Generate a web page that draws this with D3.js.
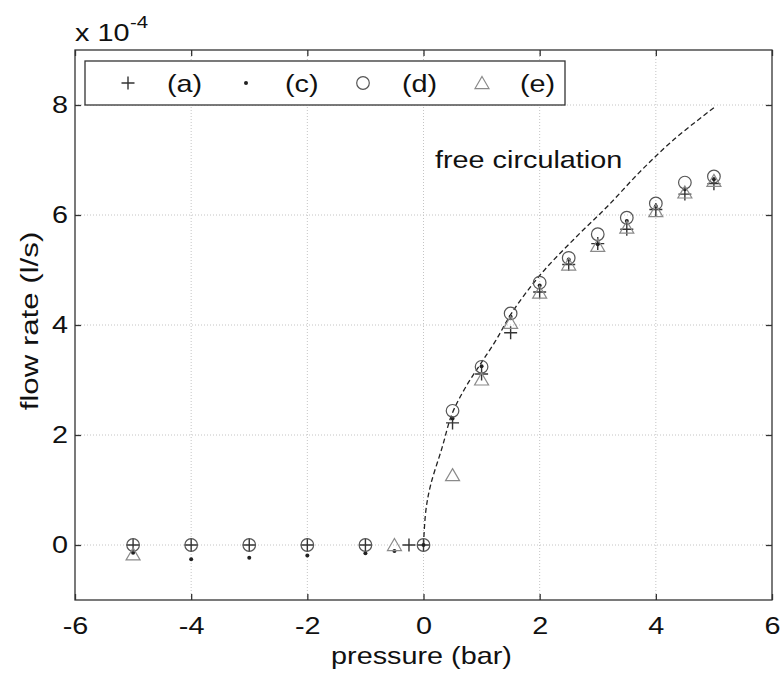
<!DOCTYPE html>
<html>
<head>
<meta charset="utf-8">
<script src="https://cdn.jsdelivr.net/npm/d3@7"></script>
<style>
  body { margin: 0; background: #fff; }
  text { font-family: "Liberation Sans", Arial, sans-serif; fill: #111; }
</style>
</head>
<body>
<svg id="chart" width="780" height="678"></svg>
<script>
// values (flow rate in 1e-4 l/s)
var xTicks = [-6, -4, -2, 0, 2, 4, 6];
var yTicks = [0, 2, 4, 6, 8];

var aX = [-5, -4, -3, -2, -1, -0.25, 0, 0.5, 1, 1.5, 2, 2.5, 3, 3.5, 4, 4.5, 5];
var aY = [0, 0, 0, 0, 0, 0, 0, 2.22, 3.11, 3.86, 4.6, 5.1, 5.48, 5.74, 6.1, 6.38, 6.57];

var cX = [-5, -4, -3, -2, -1, -0.5, 0, 0.5, 1, 1.5, 2, 2.5, 3, 3.5, 4, 4.5, 5];
var cY = [-0.14, -0.26, -0.23, -0.19, -0.15, -0.11, 0, 2.3, 3.25, 4.15, 4.72, 5.19, 5.47, 5.89, 6.16, 6.47, 6.65];

var dX = [-5, -4, -3, -2, -1, 0, 0.5, 1, 1.5, 2, 2.5, 3, 3.5, 4, 4.5, 5];
var dY = [0, 0, 0, 0, 0, 0, 2.44, 3.24, 4.21, 4.77, 5.22, 5.65, 5.95, 6.21, 6.59, 6.7];

var eX = [-5, -0.5, 0.5, 1, 1.5, 2, 2.5, 3, 3.5, 4, 4.5, 5];
var eY = [-0.17, 0, 1.27, 3.01, 4.04, 4.59, 5.1, 5.44, 5.77, 6.07, 6.41, 6.62];

var freeX = [0, 0.04, 0.12, 0.32, 0.49, 0.72, 0.98, 1.24, 1.52, 2.0, 2.59, 3.17, 3.74, 4.32, 5.0];
var freeY = [0, 0.62, 1.08, 1.77, 2.38, 2.86, 3.29, 3.71, 4.22, 4.9, 5.56, 6.16, 6.8, 7.38, 7.95];

var legendNames = ['(a)', '(c)', '(d)', '(e)'];

var svg = d3.select('#chart');
var x = d3.scaleLinear().domain([-6, 6]).range([75, 772]);
var y = d3.scaleLinear().domain([-1, 9]).range([600, 50]);
var SX = 1.2; // the picture's text is a bit wide

function txt(g, px, py, s, size, anchor, rot, sx) {
  return g.append('text')
    .attr('transform', 'translate(' + px + ',' + py + ') rotate(' + (rot || 0) + ') scale(' + (sx || SX) + ',1)')
    .attr('text-anchor', anchor || 'start')
    .style('font-size', size + 'px')
    .text(s);
}

function zip(xs, ys) { return xs.map(function(v, i) { return [v, ys[i]]; }); }

// grid
var grid = svg.append('g').attr('stroke', '#c4c4c4').attr('stroke-width', 1).attr('stroke-dasharray', '1,2');
grid.selectAll('.gx').data(xTicks.slice(1, -1)).enter().append('line')
  .attr('x1', function(d) { return x(d); }).attr('x2', function(d) { return x(d); })
  .attr('y1', y(9)).attr('y2', y(-1));
grid.selectAll('.gy').data(yTicks).enter().append('line')
  .attr('y1', function(d) { return y(d); }).attr('y2', function(d) { return y(d); })
  .attr('x1', x(-6)).attr('x2', x(6));

// axes, ticks point inward; plain hyphen for minus like the original
var fmt = function(d) { return String(d); };
var axB = svg.append('g').attr('transform', 'translate(0,' + y(-1) + ')')
  .call(d3.axisBottom(x).tickValues(xTicks).tickSizeInner(-6).tickSizeOuter(0).tickPadding(17).tickFormat(fmt));
var axT = svg.append('g').attr('transform', 'translate(0,' + y(9) + ')')
  .call(d3.axisTop(x).tickValues(xTicks).tickSizeInner(-6).tickSizeOuter(0).tickFormat(''));
var axL = svg.append('g').attr('transform', 'translate(' + x(-6) + ',0)')
  .call(d3.axisLeft(y).tickValues(yTicks).tickSizeInner(-6).tickSizeOuter(0).tickPadding(7).tickFormat(fmt));
var axR = svg.append('g').attr('transform', 'translate(' + x(6) + ',0)')
  .call(d3.axisRight(y).tickValues(yTicks).tickSizeInner(-6).tickSizeOuter(0).tickFormat(''));

[axB, axT, axL, axR].forEach(function(a) {
  a.select('.domain').remove();
  a.selectAll('line').attr('stroke', '#333').attr('stroke-width', 1.3);
  a.selectAll('text').style('font-size', '24px')
    .style('font-family', '"Liberation Sans", Arial, sans-serif').attr('fill', '#111');
});
axB.selectAll('text').attr('transform', 'scale(' + SX + ',1)');
axL.selectAll('text').attr('x', -7 / SX).attr('transform', 'scale(' + SX + ',1)');

svg.append('rect')
  .attr('x', x(-6)).attr('y', y(9))
  .attr('width', x(6) - x(-6)).attr('height', y(-1) - y(9))
  .attr('fill', 'none').attr('stroke', '#333').attr('stroke-width', 1.3);

// free circulation curve
var line = d3.line()
  .x(function(d) { return x(d[0]); })
  .y(function(d) { return y(d[1]); })
  .curve(d3.curveCatmullRom.alpha(0.5));
svg.append('path').datum(zip(freeX, freeY))
  .attr('d', line).attr('fill', 'none')
  .attr('stroke', '#222').attr('stroke-width', 1.3).attr('stroke-dasharray', '5,3');

// marker painters
function plusPath(px, py) {
  var h = 6.5;
  return 'M' + (px - h) + ',' + py + 'H' + (px + h) + 'M' + px + ',' + (py - h) + 'V' + (py + h);
}
function triPath(px, py) {
  var w = 7, hh = 6.5;
  return 'M' + px + ',' + (py - hh) + 'L' + (px + w) + ',' + (py + hh * 0.85) + 'L' + (px - w) + ',' + (py + hh * 0.85) + 'Z';
}

var drawers = [
  function(g, px, py) { g.append('path').attr('d', plusPath(px, py)).attr('stroke', '#333').attr('stroke-width', 1.4).attr('fill', 'none'); },
  function(g, px, py) { g.append('circle').attr('cx', px).attr('cy', py).attr('r', 2).attr('fill', '#222'); },
  function(g, px, py) { g.append('circle').attr('cx', px).attr('cy', py).attr('r', 6.3).attr('fill', 'none').attr('stroke', '#555').attr('stroke-width', 1.2); },
  function(g, px, py) { g.append('path').attr('d', triPath(px, py)).attr('fill', 'none').attr('stroke', '#8a8a8a').attr('stroke-width', 1.2); }
];

var series = [zip(aX, aY), zip(cX, cY), zip(dX, dY), zip(eX, eY)];
var marks = svg.append('g');
series.forEach(function(s, i) {
  s.forEach(function(p) { drawers[i](marks, x(p[0]), y(p[1])); });
});

// text labels
txt(svg, 435, 168, 'free circulation', 24);
txt(svg, x(0) - 2, 664, 'pressure (bar)', 24, 'middle');
txt(svg, 38, 321, 'flow rate (l/s)', 24, 'middle', -90, 1.3);
txt(svg, 75, 41, 'x 10', 24);
txt(svg, 130, 28, '-4', 17);

// legend
var lg = svg.append('g');
lg.append('rect').attr('x', 85).attr('y', 61).attr('width', 480).attr('height', 44)
  .attr('fill', '#fff').attr('stroke', '#333').attr('stroke-width', 1.3);
var legMarkX = [128, 246, 363, 482];
var legTextX = [167, 285, 402, 520];
legendNames.forEach(function(n, i) {
  drawers[i](lg, legMarkX[i], 83);
  txt(lg, legTextX[i], 92, n, 24);
});
</script>
</body>
</html>
